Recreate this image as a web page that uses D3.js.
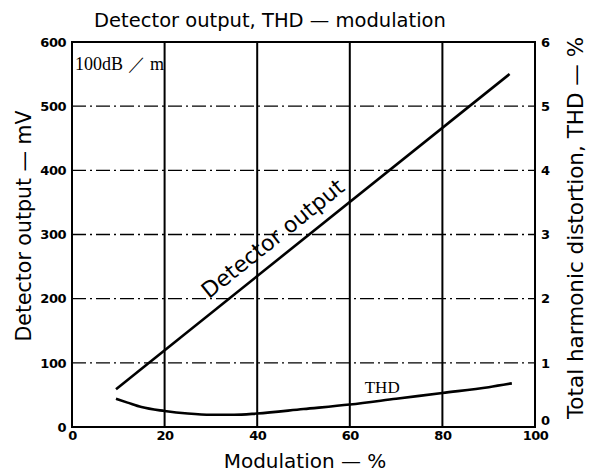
<!DOCTYPE html>
<html><head><meta charset="utf-8">
<script src="https://cdn.jsdelivr.net/npm/d3@7"></script>
<style>body{margin:0;background:#fff}svg{display:block}</style>
</head><body><svg id="c" width="593" height="475"></svg>
<script>
const xTicks = [0, 20, 40, 60, 80, 100];
const yLeftTicks = [0, 100, 200, 300, 400, 500, 600];
const yRightTicks = [0, 1, 2, 3, 4, 5, 6];
const detectorMod = [9.5, 94.5];
const detectorMv = [59, 550];
const thdMod = [9.5, 12, 15, 20, 25, 30, 35, 40, 50, 60, 70, 80, 90, 95];
const thdPct = [0.44, 0.38, 0.31, 0.25, 0.21, 0.19, 0.19, 0.21, 0.28, 0.35, 0.44, 0.53, 0.62, 0.68];

const svg = d3.select('#c');
const L = 72, R = 535, T = 42, B = 427;
const x = d3.scaleLinear().domain([0, 100]).range([L, R]);
const y = d3.scaleLinear().domain([0, 600]).range([B, T]);
const yR = d3.scaleLinear().domain([0, 6]).range([B, T]);

const sans = '"DejaVu Sans",Verdana,sans-serif';
const serif = '"Liberation Serif","Times New Roman",serif';

// horizontal grid (dash-dot)
svg.append('g').selectAll('line').data(yLeftTicks.filter(d => d > 0 && d < 600)).join('line')
  .attr('x1', L).attr('x2', R).attr('y1', d => y(d)).attr('y2', d => y(d))
  .attr('stroke', '#000').attr('stroke-width', 1.3).attr('stroke-dasharray', '14,4,2,4');
// vertical grid (solid)
svg.append('g').selectAll('line').data(xTicks.filter(d => d > 0 && d < 100)).join('line')
  .attr('x1', d => x(d)).attr('x2', d => x(d)).attr('y1', T).attr('y2', B)
  .attr('stroke', '#000').attr('stroke-width', 2);
// frame
svg.append('rect').attr('x', L).attr('y', T).attr('width', R - L).attr('height', B - T)
  .attr('fill', 'none').attr('stroke', '#000').attr('stroke-width', 2);

// axes via d3 axis generators, styled
const axL = svg.append('g').attr('transform', `translate(${L},0)`)
  .call(d3.axisLeft(y).tickValues(yLeftTicks).tickSize(0).tickPadding(6).tickFormat(d3.format('d')));
const axR = svg.append('g').attr('transform', `translate(${R},0)`)
  .call(d3.axisRight(yR).tickValues(yRightTicks).tickSize(0).tickPadding(6).tickFormat(d3.format('d')));
const axB = svg.append('g').attr('transform', `translate(0,${B})`)
  .call(d3.axisBottom(x).tickValues(xTicks).tickSize(0).tickPadding(4).tickFormat(d3.format('d')));
[axL, axR, axB].forEach(a => {
  a.select('.domain').remove();
  a.selectAll('text').attr('font-family', sans).attr('font-size', 13)
    .attr('font-weight', 'bold').attr('fill', '#000').attr('letter-spacing', -0.5);
});
axR.selectAll('.tick text').attr('dy', d => d === 0 ? '-0.2em' : '0.32em');

// lines
svg.append('path').datum(detectorMod.map((m, i) => [m, detectorMv[i]]))
  .attr('d', d3.line().x(d => x(d[0])).y(d => y(d[1])))
  .attr('fill', 'none').attr('stroke', '#000').attr('stroke-width', 2.6);
svg.append('path').datum(thdMod.map((m, i) => [m, thdPct[i]]))
  .attr('d', d3.line().curve(d3.curveMonotoneX).x(d => x(d[0])).y(d => yR(d[1])))
  .attr('fill', 'none').attr('stroke', '#000').attr('stroke-width', 2.6);

// annotations
const p0 = [x(detectorMod[0]), y(detectorMv[0])], p1 = [x(detectorMod[1]), y(detectorMv[1])];
const ang = Math.atan2(p1[1] - p0[1], p1[0] - p0[0]) * 180 / Math.PI;
const midMod = 46;
const mx = x(midMod), my = y(detectorMv[0] + (detectorMv[1] - detectorMv[0]) * (midMod - detectorMod[0]) / (detectorMod[1] - detectorMod[0]));
svg.append('text').attr('transform', `translate(${mx},${my}) rotate(${ang})`)
  .attr('y', -12).attr('text-anchor', 'middle')
  .attr('font-family', sans).attr('font-size', 22)
  .text('Detector output');
svg.append('text').attr('x', x(67)).attr('y', 393).attr('text-anchor', 'middle')
  .attr('font-family', serif).attr('font-size', 17).text('THD');
svg.append('text').attr('x', 75).attr('y', 70)
  .attr('font-family', serif).attr('font-size', 18).text('100dB ／ m');

// titles
svg.append('text').attr('x', 270).attr('y', 27).attr('text-anchor', 'middle')
  .attr('font-family', sans).attr('font-size', 19.5)
  .text('Detector output, THD — modulation');
svg.append('text').attr('x', 305).attr('y', 468).attr('text-anchor', 'middle')
  .attr('font-family', sans).attr('font-size', 20)
  .text('Modulation — %');
svg.append('text').attr('transform', `translate(31,226) rotate(-90)`)
  .attr('text-anchor', 'middle')
  .attr('font-family', sans).attr('font-size', 20.5)
  .text('Detector output — mV');
svg.append('text').attr('transform', `translate(583,228) rotate(-90)`)
  .attr('text-anchor', 'middle')
  .attr('font-family', sans).attr('font-size', 21.5)
  .text('Total harmonic distortion, THD — %');
</script></body></html>
